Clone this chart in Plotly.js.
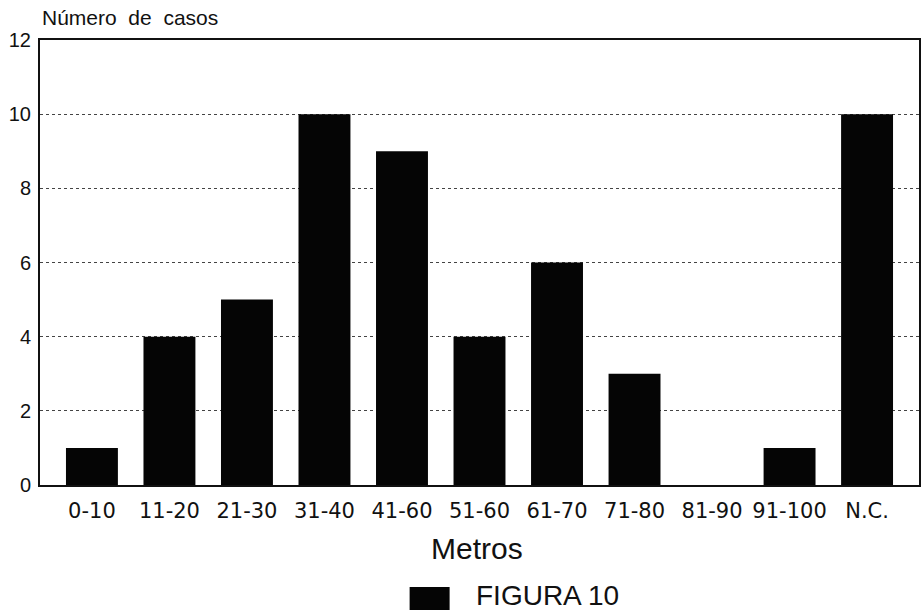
<!DOCTYPE html>
<html>
<head>
<meta charset="utf-8">
<script src="https://cdn.plot.ly/plotly-3.0.1.min.js"></script>
<style>html,body{margin:0;padding:0;background:#fff;}#chart{width:923px;height:613px;}</style>
</head>
<body>
<div id="chart"></div>
<script>
const categories = ["0-10", "11-20", "21-30", "31-40", "41-60", "51-60", "61-70", "71-80", "81-90", "91-100", "N.C."];
const casos = [1, 4, 5, 10, 9, 4, 6, 3, 0, 1, 10];
const yTicks = [0, 2, 4, 6, 8, 10, 12];
const seriesName = "FIGURA 10";

const FONT = "Liberation Sans, Arial, sans-serif";
const WIDE = "DejaVu Sans, Liberation Sans, sans-serif";

const trace = {
  type: "bar",
  x: categories,
  y: casos,
  name: seriesName,
  marker: {color: "#050505", line: {width: 0}},
  width: 0.67,
  showlegend: false,
  hoverinfo: "x+y"
};

const layout = {
  width: 923,
  height: 613,
  margin: {l: 40, r: 4, t: 40, b: 128},
  paper_bgcolor: "#ffffff",
  plot_bgcolor: "#ffffff",
  font: {family: FONT, color: "#111"},
  xaxis: {
    type: "category",
    range: [-0.67, 10.67],
    showgrid: false,
    showline: true,
    linecolor: "#111",
    linewidth: 2,
    mirror: true,
    ticks: "",
    ticklabelstandoff: 6,
    tickfont: {size: 21, family: WIDE, color: "#111"}
  },
  yaxis: {
    range: [0, 12],
    tickvals: yTicks,
    ticktext: yTicks.map(String),
    showgrid: true,
    gridcolor: "#444",
    griddash: "dot",
    gridwidth: 1,
    zeroline: false,
    showline: true,
    linecolor: "#111",
    linewidth: 2,
    mirror: true,
    ticks: "",
    ticklen: 0,
    ticklabelstandoff: 3,
    tickfont: {size: 20, family: FONT, color: "#111"}
  },
  annotations: [
    {text: "Número\u00a0 de\u00a0 casos", xref: "paper", yref: "paper", x: 0.0, y: 1.0, yshift: 9,
     xanchor: "left", yanchor: "bottom", showarrow: false, font: {size: 21, family: FONT, color: "#111"}},
    {text: "Metros", xref: "paper", yref: "paper", x: 0.497, y: -0.1416,
     xanchor: "center", yanchor: "middle", showarrow: false, font: {size: 30, family: FONT, color: "#111"}},
    {text: seriesName, xref: "paper", yref: "paper", x: 0.494, y: -0.2472,
     xanchor: "left", yanchor: "middle", showarrow: false, font: {size: 28, family: FONT, color: "#111"}}
  ],
  shapes: [
    {type: "rect", xref: "paper", yref: "paper", x0: 0.4205, x1: 0.466, y0: -0.281, y1: -0.229,
     fillcolor: "#050505", line: {width: 0}}
  ]
};

Plotly.newPlot("chart", [trace], layout, {displayModeBar: false, staticPlot: true});
</script>
</body>
</html>
